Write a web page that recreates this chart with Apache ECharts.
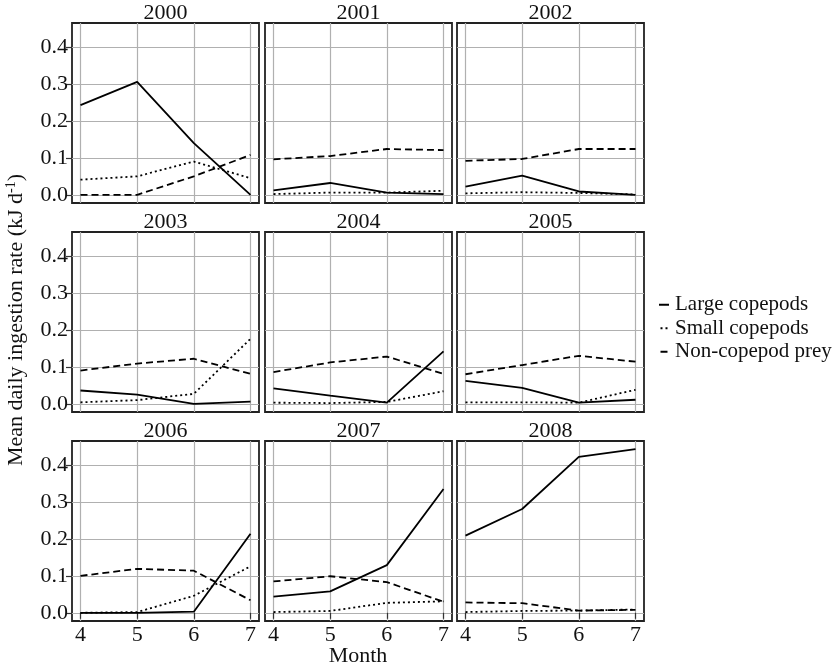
<!DOCTYPE html>
<html>
<head>
<meta charset="utf-8">
<script src="https://cdn.jsdelivr.net/npm/echarts@6/dist/echarts.min.js"></script>
<style>
html,body{margin:0;padding:0;background:#fff;}
#c{width:835px;height:666px;}
</style>
</head>
<body>
<div id="c"></div>
<script>
const months = [4, 5, 6, 7];
const years = ['2000','2001','2002','2003','2004','2005','2006','2007','2008'];
const yTicks = [0, 0.1, 0.2, 0.3, 0.4];
const xTicks = [4, 5, 6, 7];
const largeCopepods = [
  [0.243, 0.306, 0.140, 0.000],
  [0.012, 0.032, 0.006, 0.002],
  [0.022, 0.052, 0.009, 0.000],
  [0.036, 0.025, 0.000, 0.006],
  [0.042, 0.022, 0.003, 0.142],
  [0.062, 0.043, 0.003, 0.011],
  [0.000, 0.000, 0.003, 0.214],
  [0.044, 0.058, 0.129, 0.335],
  [0.209, 0.281, 0.422, 0.443]
];
const smallCopepods = [
  [0.041, 0.050, 0.090, 0.045],
  [0.002, 0.006, 0.006, 0.011],
  [0.004, 0.007, 0.005, 0.001],
  [0.004, 0.010, 0.027, 0.176],
  [0.003, 0.002, 0.005, 0.034],
  [0.004, 0.004, 0.003, 0.038],
  [0.000, 0.002, 0.046, 0.126],
  [0.002, 0.005, 0.027, 0.031],
  [0.002, 0.005, 0.006, 0.009]
];
const nonCopepodPrey = [
  [0.000, 0.000, 0.050, 0.108],
  [0.096, 0.105, 0.124, 0.121],
  [0.092, 0.097, 0.124, 0.124],
  [0.090, 0.109, 0.122, 0.081],
  [0.086, 0.112, 0.128, 0.081],
  [0.080, 0.105, 0.130, 0.114],
  [0.100, 0.119, 0.114, 0.034],
  [0.085, 0.099, 0.083, 0.030],
  [0.028, 0.026, 0.006, 0.008]
];
const seriesNames = ['Large copepods', 'Small copepods', 'Non-copepod prey'];
const seriesData = [largeCopepods, smallCopepods, nonCopepodPrey];

const FONT = '"Liberation Serif", "Times New Roman", serif';
const FS = 22;
const colLeft = [72, 265, 457];
const rowTop = [23, 232, 441];
const PW = 187, PH = 180;
const lineStyles = [
  {color:'#000', width:1.8, type:'solid'},
  {color:'#000', width:1.8, type:[2,3]},
  {color:'#000', width:1.8, type:[7,4]}
];
const legendIcons = [
  'path://M0,0H10V2H0Z',
  'path://M1,0H3V2H1ZM6,0H8V2H6Z',
  'path://M1,0H8V2H1Z'
];

const grids = [], xAxes = [], yAxes = [], series = [], graphics = [];
years.forEach((yr, i) => {
  const r = Math.floor(i / 3), c = i % 3;
  grids.push({left: colLeft[c], top: rowTop[r], width: PW, height: PH,
    show: true, borderColor: '#222', borderWidth: 1.8, backgroundColor: 'transparent'});
  const bottom = r === 2, left = c === 0;
  xAxes.push({type:'value', gridIndex:i, min:3.85, max:7.15,
    axisLine:{show:false},
    axisTick:{show:bottom, length:6, lineStyle:{color:'#333', width:1.2}, customValues: xTicks},
    axisLabel:{show:bottom, customValues: xTicks, margin:3, color:'#111', fontFamily:FONT, fontSize:FS},
    splitLine:{show:true, lineStyle:{color:'#b0b0b0', width:1.2}}
  });
  yAxes.push({type:'value', gridIndex:i, min:-0.0222, max:0.4652,
    axisLine:{show:false},
    axisTick:{show:left, length:6, lineStyle:{color:'#333', width:1.2}, customValues: yTicks},
    axisLabel:{show:left, customValues: yTicks, margin:4, color:'#111', fontFamily:FONT, fontSize:FS,
      formatter: v => v.toFixed(1)},
    splitLine:{show:true, lineStyle:{color:'#b0b0b0', width:1.2}}
  });
  seriesNames.forEach((nm, k) => {
    series.push({type:'line', name:nm, xAxisIndex:i, yAxisIndex:i,
      data: months.map((m, j) => [m, seriesData[k][i][j]]),
      symbol:'none', lineStyle: lineStyles[k], itemStyle:{color:'#000'},
      animation:false, silent:true, z: 3 - k});
  });
  graphics.push({type:'text', x: colLeft[c] + PW/2, y: rowTop[r] - 10,
    style:{text: yr, fontFamily:FONT, fontSize:FS, fill:'#111', align:'center', verticalAlign:'middle'}});
});

graphics.push({type:'text', x: 358, y: 656,
  style:{text:'Month', fontFamily:FONT, fontSize:FS, fill:'#111', align:'center', verticalAlign:'middle'}});
graphics.push({type:'text', x: 16, y: 320, rotation: Math.PI/2,
  style:{text:'Mean daily ingestion rate (kJ d{sup|-1})', fontFamily:FONT, fontSize:FS, fill:'#111',
    align:'center', verticalAlign:'middle',
    rich:{sup:{fontFamily:FONT, fontSize:14, fill:'#111', padding:[0,0,10,0]}}}});

const chart = echarts.init(document.getElementById('c'), null, {renderer:'canvas'});
chart.setOption({
  backgroundColor:'#fff',
  animation:false,
  grid: grids, xAxis: xAxes, yAxis: yAxes, series: series,
  legend:{data: seriesNames.map((n, k) => ({name: n, icon: legendIcons[k]})),
    orient:'vertical', left: 654, top: 289, itemWidth: 10, itemHeight: 2,
    itemGap: 2, itemStyle:{color:'#000', borderWidth:0},
    textStyle:{fontFamily:FONT, fontSize:21, color:'#111', padding:[0,0,0,1], lineHeight:21.5}, selectedMode:false},
  graphic: graphics
});
</script>
</body>
</html>
